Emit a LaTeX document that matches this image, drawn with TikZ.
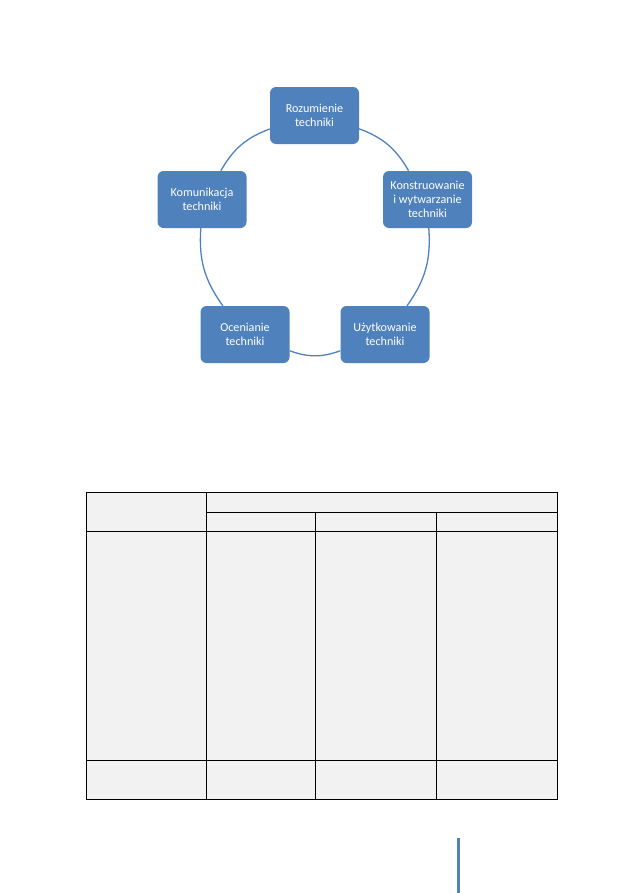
\documentclass[tikz,border=0pt]{standalone}
\usepackage{fontspec}
\setmainfont{Carlito}
\definecolor{officeblue}{HTML}{4F81BD}
\definecolor{cellgray}{HTML}{F2F2F2}
\begin{document}
\begin{tikzpicture}[x=1bp, y=-1bp,
  stage/.style={fill=officeblue, text=white, rounded corners=6bp, minimum width=89bp, minimum height=57bp, font=\fontsize{12.2}{14}\selectfont, align=center, inner sep=2bp},
  ring/.style={draw=officeblue, line width=1.3bp, bend left=20},
  grid/.style={draw=black, line width=0.9bp}
]
\useasboundingbox (0,0) rectangle (630,893);
\node[stage] (rozum)  at (314.5,115.5) {Rozumienie\\techniki};
\node[stage] (konstr) at (427.5,199.5) {Konstruowanie\\i wytwarzanie\\techniki};
\node[stage] (uzytk)  at (385,334.5)   {Użytkowanie\\techniki};
\node[stage] (ocen)   at (245,334.5)   {Ocenianie\\techniki};
\node[stage] (komun)  at (202,199.5)   {Komunikacja\\techniki};
\draw[ring] (rozum)  to (konstr);
\draw[ring] (konstr) to (uzytk);
\draw[ring] (uzytk)  to (ocen);
\draw[ring] (ocen)   to (komun);
\draw[ring] (komun)  to (rozum);
% table
\fill[cellgray] (86,492) rectangle (557,799);
\draw[grid] (86,492) rectangle (557,799);
\draw[grid] (206,492) -- (206,799);
\draw[grid] (206,512) -- (557,512);
\draw[grid] (86,531) -- (557,531);
\draw[grid] (86,760) -- (557,760);
\draw[grid] (315,512) -- (315,799);
\draw[grid] (436,512) -- (436,799);
% page mark
\fill[officeblue] (456.5,838) rectangle (459.5,893);
\end{tikzpicture}
\end{document}
